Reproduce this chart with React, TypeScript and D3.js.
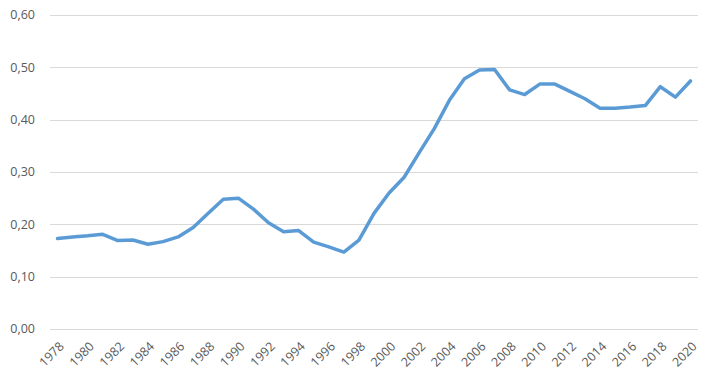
import React from "react";
import * as d3 from "d3";

const years: number[] = d3.range(1978, 2021);
const values: number[] = [
  0.173, 0.176, 0.178, 0.181, 0.169, 0.170, 0.162, 0.167, 0.176, 0.194,
  0.221, 0.248, 0.250, 0.229, 0.203, 0.186, 0.188, 0.166, 0.157, 0.147,
  0.170, 0.221, 0.260, 0.290, 0.337, 0.383, 0.437, 0.478, 0.495, 0.496,
  0.457, 0.448, 0.468, 0.468, 0.454, 0.440, 0.422, 0.422, 0.424, 0.427,
  0.463, 0.443, 0.474,
];
const yTicks: number[] = [0, 0.1, 0.2, 0.3, 0.4, 0.5, 0.6];
const xLabelYears: number[] = years.filter((y) => (y - 1978) % 2 === 0);

const W = 714;
const H = 377;
const left = 50;
const right = 698;
const top = 15;
const bottom = 329;

export default function App() {
  const x = d3
    .scaleBand<number>()
    .domain(years)
    .range([left, right])
    .paddingInner(0)
    .paddingOuter(0);
  const cx = (yr: number) => (x(yr) as number) + x.bandwidth() / 2;
  const y = d3.scaleLinear().domain([0, 0.6]).range([bottom, top]);
  const line = d3
    .line<number>()
    .x((_, i) => cx(years[i]))
    .y((v) => y(v))
    .curve(d3.curveLinear);
  const fmt = (v: number) => v.toFixed(2).replace(".", ",");
  const font = "'Open Sans', 'Liberation Sans', sans-serif";
  return (
    <svg
      width={W}
      height={H}
      style={{ position: "absolute", left: 0, top: 0, background: "#fff" }}
    >
      <rect x={0} y={0} width={W} height={H} fill="#fff" />
      {yTicks.map((t) => (
        <g key={t}>
          <line
            x1={left}
            x2={right}
            y1={Math.round(y(t)) + 0.5}
            y2={Math.round(y(t)) + 0.5}
            stroke="#d9d9d9"
            strokeWidth={1}
          />
          <text
            x={35}
            y={y(t)}
            dy="0.35em"
            textAnchor="end"
            fontFamily={font}
            fontSize={12.5}
            fill="#595959"
          >
            {fmt(t)}
          </text>
        </g>
      ))}
      <path
        d={line(values) || ""}
        fill="none"
        stroke="#5B9BD5"
        strokeWidth={3.5}
        strokeLinejoin="round"
        strokeLinecap="round"
      />
      {xLabelYears.map((yr) => (
        <text
          key={yr}
          transform={`translate(${cx(yr) + 1},${bottom + 12}) rotate(-45)`}
          textAnchor="end"
          dy="0.7em"
          fontFamily={font}
          fontSize={12.5}
          fill="#595959"
        >
          {yr}
        </text>
      ))}
    </svg>
  );
}
